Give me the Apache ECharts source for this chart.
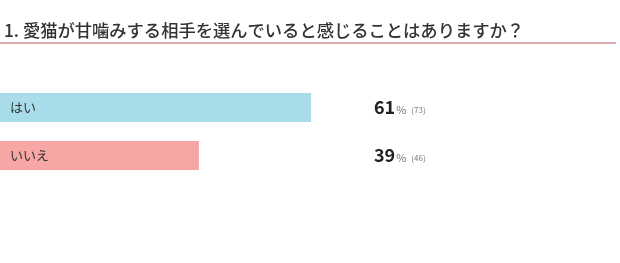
<!DOCTYPE html>
<html>
<head>
<meta charset="utf-8">
<script src="https://cdn.jsdelivr.net/npm/echarts@6/dist/echarts.min.js"></script>
<style>
  html, body { margin: 0; padding: 0; background: #fff; }
  #chart { width: 620px; height: 263px; }
</style>
</head>
<body>
<div id="chart"></div>
<script>
// アンケート結果
const titleText = '1. 愛猫が甘噛みする相手を選んでいると感じることはありますか？'
const categories = ['はい', 'いいえ']
const percents = [61, 39]
const counts = [73, 46]
const colors = ['#a9dce9', '#f7a5a5']

const chart = echarts.init(document.getElementById('chart'))
const font = '"Noto Sans CJK JP", "Noto Sans", sans-serif'

const options = {
  animation: false,
  title: {
    text: titleText,
    left: -1,
    top: 17,
    textStyle: { fontFamily: font, fontSize: 17.3, fontWeight: 500, color: '#333' }
  },
  graphic: [
    {
      type: 'rect',
      shape: { x: 0, y: 42, width: 616, height: 2 },
      style: { fill: '#dcaaaa' }
    }
  ],
  grid: { left: 0, top: 83.5, width: 510, height: 96 },
  xAxis: {
    type: 'value',
    min: 0,
    max: 100,
    show: false
  },
  yAxis: [
    {
      type: 'category',
      data: categories,
      inverse: true,
      show: false
    },
    {
      type: 'category',
      data: categories,
      inverse: true,
      position: 'right',
      offset: -136,
      axisLine: { show: false },
      axisTick: { show: false },
      axisLabel: {
        margin: 0,
        align: 'left',
        formatter: (val, idx) => `{p|${percents[idx]}}{u|%}{n|(${counts[idx]})}`,
        rich: {
          p: { fontFamily: font, fontSize: 18, fontWeight: 'bold', color: '#222', padding: [0, 1, 0, 0] },
          u: { fontFamily: font, fontSize: 11, color: '#777', padding: [4, 5, 0, 0] },
          n: { fontFamily: font, fontSize: 8, color: '#777', padding: [4, 0, 0, 0] }
        }
      }
    }
  ],
  series: [
    {
      type: 'bar',
      barWidth: 29,
      data: percents.map((v, i) => ({ value: v, itemStyle: { color: colors[i] } })),
      label: {
        show: true,
        position: 'insideLeft',
        distance: 10,
        formatter: p => categories[p.dataIndex],
        fontFamily: font,
        fontSize: 13,
        color: '#333'
      }
    }
  ]
}

chart.setOption(options)
</script>
</body>
</html>
